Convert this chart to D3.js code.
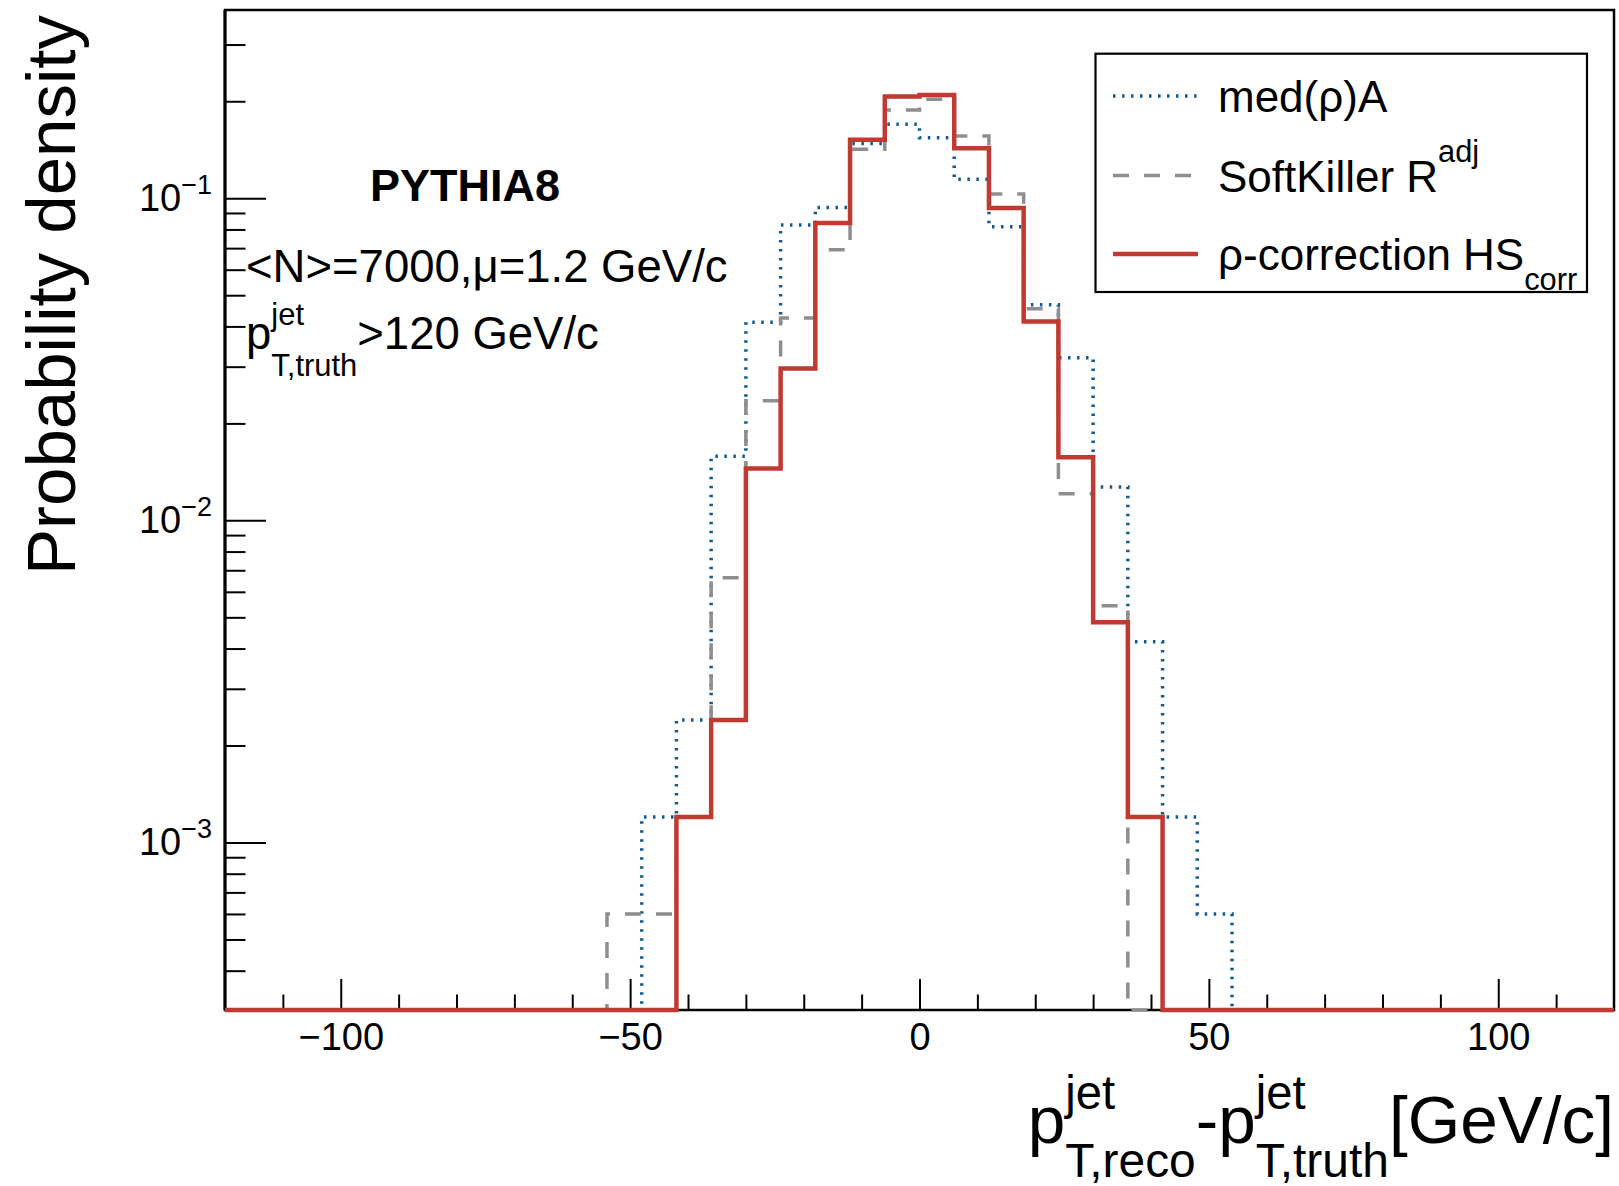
<!DOCTYPE html>
<html>
<head>
<meta charset="utf-8">
<script src="https://cdn.jsdelivr.net/npm/d3@7"></script>
<style>
	body { margin: 0; background: #fff; }
	svg text { font-family: "Liberation Sans", Arial, Helvetica, sans-serif; fill: #000; }
</style>
</head>
<body>
<script>
(function() {

	// histogram binning: 40 bins of 6 GeV/c between -120 and 120
	var xMin = -120, xMax = 120, binWidth = 6;

	// probability density per bin
	var medRhoA = [
		0, 0, 0, 0, 0, 0, 0, 0, 0, 0,
		0, 0, 0.0012, 0.0024, 0.0158, 0.0412, 0.0826, 0.0936, 0.148, 0.1696,
		0.154, 0.1145, 0.0816, 0.0467, 0.032, 0.0127, 0.0042, 0.0012, 0.0006, 0,
		0, 0, 0, 0, 0, 0, 0, 0, 0, 0
	];
	var softKiller = [
		0, 0, 0, 0, 0, 0, 0, 0, 0, 0,
		0, 0.0006, 0.0006, 0.0012, 0.00664, 0.0235, 0.0425, 0.0692, 0.142, 0.188,
		0.203, 0.156, 0.103, 0.0454, 0.0121, 0.00543, 0, 0, 0, 0,
		0, 0, 0, 0, 0, 0, 0, 0, 0, 0
	];
	var rhoCorr = [
		0, 0, 0, 0, 0, 0, 0, 0, 0, 0,
		0, 0, 0, 0.0012, 0.0024, 0.0145, 0.0296, 0.0838, 0.152, 0.207,
		0.209, 0.143, 0.0932, 0.0414, 0.0157, 0.00483, 0.0012, 0, 0, 0,
		0, 0, 0, 0, 0, 0, 0, 0, 0, 0
	];

	var xMajor = [-100, -50, 0, 50, 100];
	var xMinor = [-110, -90, -80, -70, -60, -40, -30, -20, -10, 10, 20, 30, 40, 60, 70, 80, 90, 110];
	var yMajor = [1e-3, 1e-2, 1e-1];
	var yMajorExp = ["\u22123", "\u22122", "\u22121"];
	var yMinor = [4e-4, 5e-4, 6e-4, 7e-4, 8e-4, 9e-4,
		2e-3, 3e-3, 4e-3, 5e-3, 6e-3, 7e-3, 8e-3, 9e-3,
		2e-2, 3e-2, 4e-2, 5e-2, 6e-2, 7e-2, 8e-2, 9e-2,
		2e-1, 3e-1];

	var series = [
		{ name: "med(\u03c1)A", values: medRhoA, color: "#135b8e", width: 3.5, dash: "2.5,6.5" },
		{ name: "SoftKiller R", sup: "adj", values: softKiller, color: "#8e8e90", width: 3.5, dash: "16,15" },
		{ name: "\u03c1-correction HS", sub: "corr", values: rhoCorr, color: "#c03a31", width: 4.5, dash: null }
	];

	var W = 1619, H = 1186;
	var frame = { left: 225, right: 1614, top: 10, bottom: 1010 };

	var svg = d3.select("body").append("svg")
		.attr("width", W)
		.attr("height", H);

	svg.append("rect").attr("width", W).attr("height", H).attr("fill", "#fff");

	var x = d3.scaleLinear()
		.domain([xMin, xMax])
		.range([frame.left, frame.right]);

	var y = d3.scaleLog()
		.domain([3.02e-4, 0.384])
		.range([frame.bottom, frame.top]);

	// small latex-like text writer: main text with stacked super/subscripts
	function latex(parent, parts, px, py, size, o) {
		o = o || {};
		var g = parent.append("g");
		var cx = 0;
		parts.forEach(function(p) {
			if (p.t) {
				var t = g.append("text")
					.attr("x", cx).attr("y", 0)
					.style("font-size", size + "px")
					.text(p.t);
				if (o.bold) t.style("font-weight", "bold");
				cx += t.node().getComputedTextLength();
			}
			var w = 0;
			if (p.sup) {
				var s = g.append("text")
					.attr("x", cx).attr("y", -size * (o.supDy || 0.52))
					.style("font-size", size * (o.supSize || 0.7) + "px")
					.text(p.sup);
				w = Math.max(w, s.node().getComputedTextLength());
			}
			if (p.sub) {
				var b = g.append("text")
					.attr("x", cx).attr("y", size * (o.subDy || 0.5))
					.style("font-size", size * (o.subSize || 0.7) + "px")
					.text(p.sub);
				w = Math.max(w, b.node().getComputedTextLength());
			}
			cx += w;
		});
		var dx = o.anchor === "end" ? -cx : 0;
		g.attr("transform", "translate(" + (px + dx) + "," + py + ")");
		return g;
	}

	// frame
	svg.append("rect")
		.attr("x", frame.left).attr("y", frame.top)
		.attr("width", frame.right - frame.left)
		.attr("height", frame.bottom - frame.top)
		.attr("fill", "none")
		.attr("stroke", "#000")
		.attr("stroke-width", 2.5);

	// x axis ticks (pointing into the frame)
	var xAxisMajor = d3.axisBottom(x)
		.tickValues(xMajor)
		.tickSize(-31)
		.tickPadding(13)
		.tickFormat(d3.format("d"));
	var gx = svg.append("g")
		.attr("class", "x axis")
		.attr("transform", "translate(0," + frame.bottom + ")")
		.call(xAxisMajor);
	gx.select(".domain").remove();
	gx.selectAll("line").attr("stroke-width", 2);
	gx.selectAll("text")
		.style("font-size", "38px")
		.attr("fill", "#000")
		.attr("dy", "0.71em");

	var gxm = svg.append("g")
		.attr("transform", "translate(0," + frame.bottom + ")")
		.call(d3.axisBottom(x).tickValues(xMinor).tickSize(-15.5).tickFormat(""));
	gxm.select(".domain").remove();
	gxm.selectAll("line").attr("stroke-width", 2);

	// y axis ticks
	var gy = svg.append("g")
		.attr("class", "y axis")
		.attr("transform", "translate(" + frame.left + ",0)")
		.call(d3.axisLeft(y).tickValues(yMajor).tickSize(-41).tickFormat(""));
	gy.select(".domain").remove();
	gy.selectAll("line").attr("stroke-width", 2);

	var gym = svg.append("g")
		.attr("transform", "translate(" + frame.left + ",0)")
		.call(d3.axisLeft(y).tickValues(yMinor).tickSize(-20.5).tickFormat(""));
	gym.select(".domain").remove();
	gym.selectAll("line").attr("stroke-width", 2);

	// y tick labels as 10^k
	yMajor.forEach(function(v, i) {
		var t = svg.append("text")
			.attr("x", 212)
			.attr("y", y(v) + 13)
			.attr("text-anchor", "end")
			.style("font-size", "38px");
		t.append("tspan").text("10");
		t.append("tspan")
			.attr("dy", -17)
			.style("font-size", "27px")
			.text(yMajorExp[i]);
	});

	// thicker left axis line
	svg.append("line")
		.attr("x1", frame.left).attr("x2", frame.left)
		.attr("y1", frame.top).attr("y2", frame.bottom)
		.attr("stroke", "#000").attr("stroke-width", 3);

	// histograms as step lines
	var line = d3.line()
		.x(function(d) { return x(d.edge); })
		.y(function(d) { return y(Math.max(d.value, y.domain()[0])); })
		.curve(d3.curveStepAfter);

	series.forEach(function(s) {
		var pts = s.values.map(function(v, i) {
			return { edge: xMin + i * binWidth, value: v };
		});
		pts.push({ edge: xMax, value: s.values[s.values.length - 1] });
		svg.append("path")
			.datum(pts)
			.attr("class", "line")
			.attr("fill", "none")
			.attr("stroke", s.color)
			.attr("stroke-width", s.width)
			.attr("stroke-dasharray", s.dash)
			.attr("d", line);
	});

	// axis titles
	svg.append("text")
		.attr("transform", "translate(75,15) rotate(-90)")
		.attr("text-anchor", "end")
		.style("font-size", "69px")
		.text("Probability density");

	latex(svg, [
		{ t: "p", sup: "jet", sub: "T,reco" },
		{ t: "-p", sup: "jet", sub: "T,truth" },
		{ t: "[GeV/c]" }
	], frame.right, 1143, 67.5, { anchor: "end", supSize: 0.7, subSize: 0.71, supDy: 0.5, subDy: 0.5 });

	// annotations
	latex(svg, [{ t: "PYTHIA8" }], 370, 201, 45, { bold: true });
	latex(svg, [{ t: "<N>=7000,\u03bc=1.2 GeV/c" }], 246, 282, 45.5);
	latex(svg, [
		{ t: "p", sup: "jet", sub: "T,truth" },
		{ t: ">120 GeV/c" }
	], 246, 349, 45.5, { supSize: 0.68, subSize: 0.68, supDy: 0.52, subDy: 0.6 });

	// legend
	var leg = svg.append("g").attr("class", "legend");
	leg.append("rect")
		.attr("x", 1095.5).attr("y", 53.7)
		.attr("width", 1587 - 1095.5).attr("height", 292 - 53.7)
		.attr("fill", "#fff")
		.attr("stroke", "#000")
		.attr("stroke-width", 2.2);

	var legY = [96, 175.5, 254];
	series.forEach(function(s, i) {
		leg.append("line")
			.attr("x1", 1113).attr("x2", 1198)
			.attr("y1", legY[i]).attr("y2", legY[i])
			.attr("stroke", s.color)
			.attr("stroke-width", s.width)
			.attr("stroke-dasharray", s.dash);
		latex(leg, [{ t: s.name, sup: s.sup, sub: s.sub }], 1218, legY[i] + 16, 44,
			{ supSize: 0.7, subSize: 0.7, supDy: 0.66, subDy: 0.45 });
	});

})();
</script>
</body>
</html>
